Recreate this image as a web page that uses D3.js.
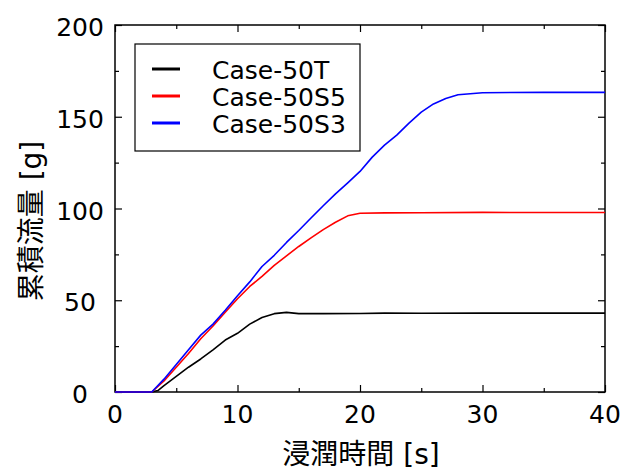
<!DOCTYPE html>
<html>
<head>
<meta charset="utf-8">
<script src="https://cdn.jsdelivr.net/npm/d3@7"></script>
<style>
  html, body { margin: 0; padding: 0; background: #fff; }
  svg { display: block; }
  text { font-family: "DejaVu Sans", "Noto Sans CJK JP", sans-serif; fill: #000; }
</style>
</head>
<body>
<div id="chart"></div>
<script>
// series values: [time s, cumulative flow g]
const case50T = [
  [0, 0], [3, 0], [3.5, 0.8], [4, 3.5], [5, 8.5], [6, 13.5], [7, 18], [8, 23],
  [9, 28.3], [10, 32], [11, 37], [12, 40.6], [13, 42.7], [14, 43.4], [15, 42.7],
  [17, 42.7], [20, 42.8], [22, 43], [25, 42.9], [30, 43], [35, 43], [40, 43]
];
const case50S5 = [
  [0, 0], [3, 0], [4, 6], [5, 13.5], [6, 21], [7, 29], [8, 36], [9, 43.5],
  [10, 50.8], [11, 57.5], [12, 63], [13, 69], [14, 74.2], [15, 79.3], [16, 84],
  [17, 88.5], [18, 92.5], [19, 96], [20, 97.4], [22, 97.6], [25, 97.7],
  [30, 97.9], [35, 97.8], [40, 97.8]
];
const case50S3 = [
  [0, 0], [3, 0], [4, 7], [5, 15], [6, 23], [7, 31], [8, 37], [9, 44.5],
  [10, 52.5], [11, 60], [12, 68.4], [13, 74.5], [14, 81.5], [15, 88], [16, 94.8],
  [17, 101.5], [18, 108], [19, 114], [20, 120.2], [21, 128], [22, 134.5],
  [23, 140], [24, 146.5], [25, 152.5], [26, 157], [27, 160], [28, 162],
  [29, 162.5], [30, 163.1], [35, 163.3], [40, 163.3]
];

const seriesNames = ["Case-50T", "Case-50S5", "Case-50S3"];
const seriesColors = ["#000000", "#ff0000", "#0000ff"];
const seriesData = [case50T, case50S5, case50S3];

const xTicks = [0, 10, 20, 30, 40];
const yTicks = [0, 50, 100, 150, 200];
const xMinor = [5, 15, 25, 35];
const yMinor = [25, 75, 125, 175];

const xLabel = "浸潤時間 [s]";
const yLabel = "累積流量 [g]";

const width = 624;
const height = 470;
const margin = { left: 115, top: 25, right: 19, bottom: 78 };
const plotW = width - margin.left - margin.right;
const plotH = height - margin.top - margin.bottom;

const svg = d3.select("#chart")
  .append("svg")
  .attr("width", width)
  .attr("height", height);

const x = d3.scaleLinear().domain([0, 40]).range([margin.left, margin.left + plotW]);
const y = d3.scaleLinear().domain([0, 200]).range([margin.top + plotH, margin.top]);

const fontSize = "25px";
const titleSize = "28px";

// inward ticks on all four sides
function addAxis(axis, transform, major, minor) {
  const g = svg.append("g").attr("transform", transform);
  g.call(axis.tickValues(major).tickSizeInner(-7).tickSizeOuter(0).tickFormat(""));
  g.select(".domain").remove();
  g.selectAll("line").attr("stroke", "#000").attr("stroke-width", 1.2);
  const gm = svg.append("g").attr("transform", transform);
  gm.call(axis.tickValues(minor).tickSizeInner(-4).tickSizeOuter(0).tickFormat(""));
  gm.select(".domain").remove();
  gm.selectAll("line").attr("stroke", "#000").attr("stroke-width", 1.2);
}

addAxis(d3.axisBottom(x), `translate(0,${margin.top + plotH})`, xTicks, xMinor);
addAxis(d3.axisTop(x), `translate(0,${margin.top})`, xTicks, xMinor);
addAxis(d3.axisLeft(y), `translate(${margin.left},0)`, yTicks, yMinor);
addAxis(d3.axisRight(y), `translate(${margin.left + plotW},0)`, yTicks, yMinor);

// tick labels
svg.append("g")
  .selectAll("text")
  .data(xTicks)
  .join("text")
  .attr("x", (d) => x(d))
  .attr("y", margin.top + plotH + 31)
  .attr("text-anchor", "middle")
  .style("font-size", fontSize)
  .text((d) => d);

// y tick labels are centred in the reference, not right aligned
svg.append("g")
  .selectAll("text")
  .data(yTicks)
  .join("text")
  .attr("x", 80)
  .attr("y", (d) => y(d) + 11)
  .attr("text-anchor", "middle")
  .style("font-size", fontSize)
  .text((d) => d);

// frame
svg.append("rect")
  .attr("x", margin.left)
  .attr("y", margin.top)
  .attr("width", plotW)
  .attr("height", plotH)
  .attr("fill", "none")
  .attr("stroke", "#000")
  .attr("stroke-width", 1.5);

// lines, drawn over the frame
const line = d3.line().x((d) => x(d[0])).y((d) => y(d[1]));
const clipId = "plotClip";
svg.append("clipPath").attr("id", clipId)
  .append("rect")
  .attr("x", margin.left).attr("y", margin.top - 2)
  .attr("width", plotW).attr("height", plotH + 4);

svg.append("g")
  .attr("clip-path", `url(#${clipId})`)
  .selectAll("path")
  .data(seriesData)
  .join("path")
  .attr("d", line)
  .attr("fill", "none")
  .attr("stroke", (d, i) => seriesColors[i])
  .attr("stroke-width", 1.6)
  .attr("stroke-linejoin", "round");

// legend
const legend = svg.append("g");
legend.append("rect")
  .attr("x", 135)
  .attr("y", 44)
  .attr("width", 225)
  .attr("height", 107)
  .attr("fill", "#fff")
  .attr("stroke", "#000")
  .attr("stroke-width", 1.2);

const rowY = [69, 96, 123];
seriesNames.forEach((name, i) => {
  legend.append("line")
    .attr("x1", 152).attr("x2", 180)
    .attr("y1", rowY[i]).attr("y2", rowY[i])
    .attr("stroke", seriesColors[i])
    .attr("stroke-width", 3);
  legend.append("text")
    .attr("x", 212)
    .attr("y", rowY[i] + 10)
    .style("font-size", fontSize)
    .text(name);
});

// axis titles
svg.append("text")
  .attr("x", 361)
  .attr("y", 464)
  .attr("text-anchor", "middle")
  .style("font-size", titleSize)
  .text(xLabel);

svg.append("text")
  .attr("transform", `translate(41,221) rotate(-90)`)
  .attr("text-anchor", "middle")
  .style("font-size", titleSize)
  .text(yLabel);
</script>
</body>
</html>
